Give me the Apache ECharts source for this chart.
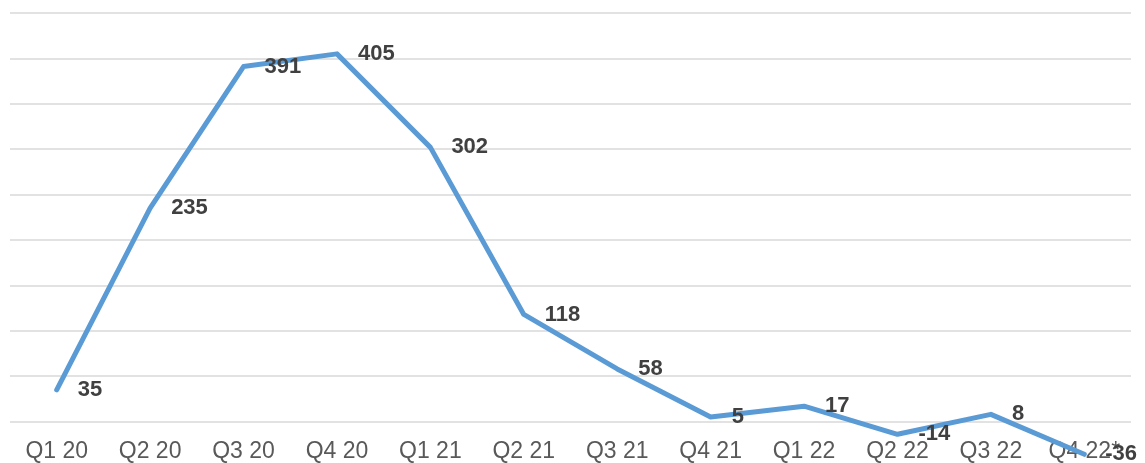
<!DOCTYPE html>
<html>
<head>
<meta charset="utf-8">
<script src="https://cdn.jsdelivr.net/npm/echarts@6/dist/echarts.min.js"></script>
<style>
  html, body { margin: 0; padding: 0; background: #fff; }
  #chart { width: 1145px; height: 463px; }
</style>
</head>
<body>
<div id="chart"></div>
<script>
// quarters and values
const quarters = ["Q1 20", "Q2 20", "Q3 20", "Q4 20", "Q1 21", "Q2 21", "Q3 21", "Q4 21", "Q1 22", "Q2 22", "Q3 22", "Q4 22*"];
const values = [35, 235, 391, 405, 302, 118, 58, 5, 17, -14, 8, -36];

const chart = echarts.init(document.getElementById("chart"));
chart.setOption({
  animation: false,
  grid: {
    left: 10,
    right: 14,
    top: 13,
    bottom: -4,
    containLabel: false,
    outerBoundsMode: "none"
  },
  xAxis: {
    type: "category",
    boundaryGap: true,
    data: quarters,
    // labels sit under the zero line, not under the grid bottom
    offset: -45,
    axisLine: { show: false, onZero: false },
    axisTick: { show: false },
    axisLabel: {
      margin: 18,
      color: "#595959",
      fontSize: 23,
      fontFamily: "Liberation Sans, Arial, sans-serif",
      interval: 0
    }
  },
  yAxis: {
    type: "value",
    min: -50,
    max: 450,
    interval: 50,
    axisLine: { show: false },
    axisTick: { show: false },
    axisLabel: { show: false },
    splitLine: { lineStyle: { color: "#d9d9d9", width: 1.5 } }
  },
  series: [
    {
      type: "line",
      data: values,
      symbol: "circle",
      symbolSize: 0,
      lineStyle: { color: "#5b9bd5", width: 5, cap: "round", join: "round" },
      itemStyle: { color: "#5b9bd5" },
      label: {
        show: true,
        position: "right",
        distance: 21,
        color: "#404040",
        fontSize: 22,
        fontWeight: "bold",
        fontFamily: "Liberation Sans, Arial, sans-serif"
      }
    }
  ]
});
</script>
</body>
</html>
